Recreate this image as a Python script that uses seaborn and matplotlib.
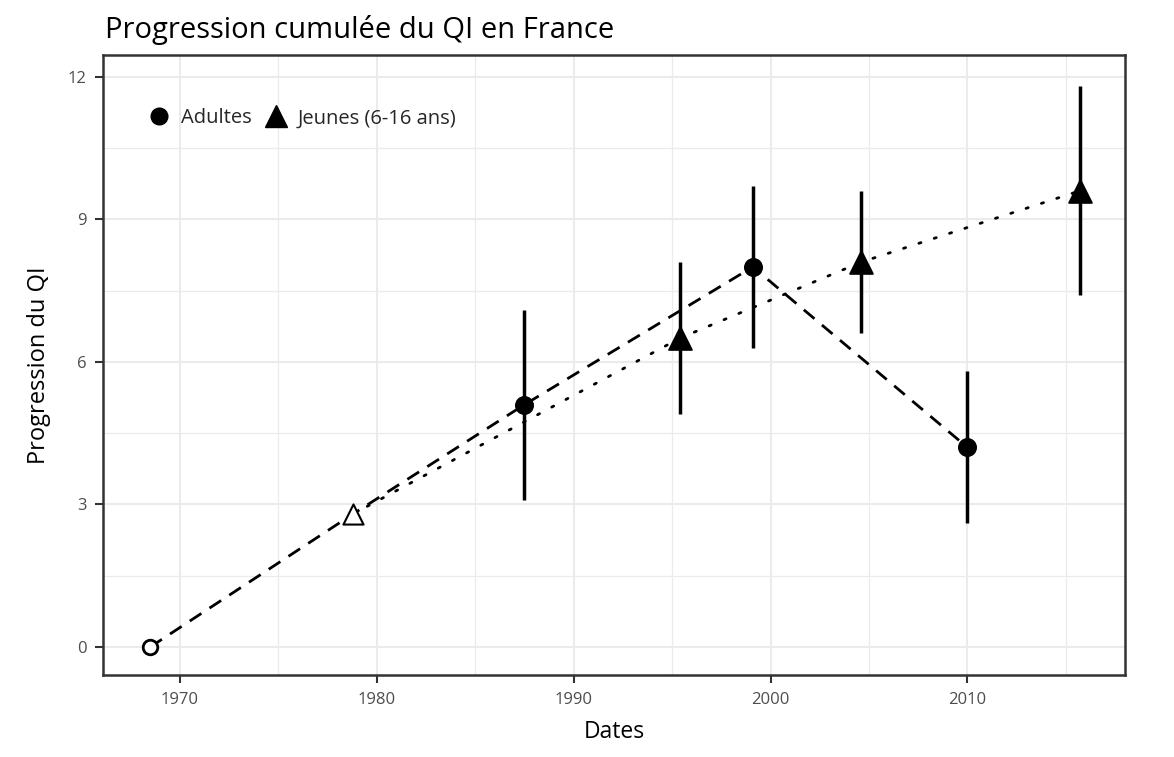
import matplotlib
matplotlib.use("Agg")
import matplotlib.pyplot as plt
import seaborn as sns
import pandas as pd
from matplotlib.lines import Line2D

# ---- data ----
adult_years = [1968.5, 1978.8, 1987.5, 1999.1, 2010.0]
adult_values = [0.0, 2.8, 5.1, 8.0, 4.2]
adult_low = [None, None, 3.1, 6.3, 2.6]
adult_high = [None, None, 7.1, 9.7, 5.8]

young_years = [1978.8, 1995.4, 2004.6, 2015.7]
young_values = [2.8, 6.5, 8.1, 9.6]
young_low = [None, 4.9, 6.6, 7.4]
young_high = [None, 8.1, 9.6, 11.8]

x_ticks = [1970, 1980, 1990, 2000, 2010]
y_ticks = [0, 3, 6, 9, 12]

sns.set_theme(style="white")
plt.rcParams['font.family'] = ['Open Sans', 'DejaVu Sans']

fig = plt.figure(figsize=(11.74, 7.57), dpi=100)
ax = fig.add_axes([103/1174, 1 - 675/757, (1125-103)/1174, (675-55)/757])

adf = pd.DataFrame({"year": adult_years, "value": adult_values})
ydf = pd.DataFrame({"year": young_years, "value": young_values})

# lines
sns.lineplot(data=adf, x="year", y="value", ax=ax, color="black", lw=2.0,
             sort=False, estimator=None, zorder=3)
ax.lines[-1].set_dashes([5, 3.5])
sns.lineplot(data=ydf, x="year", y="value", ax=ax, color="black", lw=2.0,
             sort=False, estimator=None, zorder=3)
ax.lines[-1].set_dashes([0.8, 5])
ax.lines[-1].set_dash_capstyle("round")

# error bars
for xs, lo, hi in [(adult_years, adult_low, adult_high), (young_years, young_low, young_high)]:
    for x, l, h in zip(xs, lo, hi):
        if l is not None:
            ax.vlines(x, l, h, color="black", lw=2.5, zorder=4)

# markers (first of each series is the open reference point)
a_filled = adf.iloc[2:]
y_filled = ydf.iloc[1:]
sns.scatterplot(data=a_filled, x="year", y="value", ax=ax, marker="o", s=160,
                color="black", edgecolor="black", zorder=5, legend=False)
sns.scatterplot(data=y_filled, x="year", y="value", ax=ax, marker="^", s=270,
                color="black", edgecolor="black", zorder=5, legend=False)
sns.scatterplot(data=adf.iloc[[0]], x="year", y="value", ax=ax, marker="o", s=110,
                facecolor="white", edgecolor="black", linewidth=2, zorder=5, legend=False)
sns.scatterplot(data=ydf.iloc[[0]], x="year", y="value", ax=ax, marker="^", s=210,
                facecolor="white", edgecolor="black", linewidth=1.5, zorder=5, legend=False)

ax.set_xlim(1966.1, 2018.0)
ax.set_ylim(-0.59, 12.46)
ax.set_xticks(x_ticks)
ax.set_yticks(y_ticks)
ax.set_xticks([1975, 1985, 1995, 2005, 2015], minor=True)
ax.set_yticks([1.5, 4.5, 7.5, 10.5], minor=True)
ax.grid(True, which="major", color="#ebebeb", lw=1.5, zorder=0)
ax.grid(True, which="minor", color="#ebebeb", lw=0.9, zorder=0)
ax.set_axisbelow(True)
for s in ax.spines.values():
    s.set_color("#333333")
    s.set_linewidth(1.8)
ax.tick_params(axis="both", which="major", length=6, width=1.5, color="#333333",
               labelsize=12, labelcolor="#4d4d4d", bottom=True, left=True, pad=6)
ax.tick_params(which="minor", length=0)

ax.set_xlabel("Dates", fontsize=16.5, color="black", labelpad=9)
ax.set_ylabel("Progression du QI", fontsize=17, color="black", labelpad=12)
fig.text(105/1174, 1 - 30/757, "Progression cumulée du QI en France", fontsize=21,
         ha="left", va="center", color="black")

handles = [
    Line2D([], [], marker="o", color="black", linestyle="none", markersize=12),
    Line2D([], [], marker="^", color="black", linestyle="none", markersize=16),
]
ax.legend(handles, ["Adultes", "Jeunes (6-16 ans)"], loc="center left", ncol=2,
          frameon=False, fontsize=14.5, bbox_to_anchor=(0.027, 0.898),
          handletextpad=0.6, columnspacing=0.7, handlelength=1.0)

fig.savefig("out.png", dpi=100)
